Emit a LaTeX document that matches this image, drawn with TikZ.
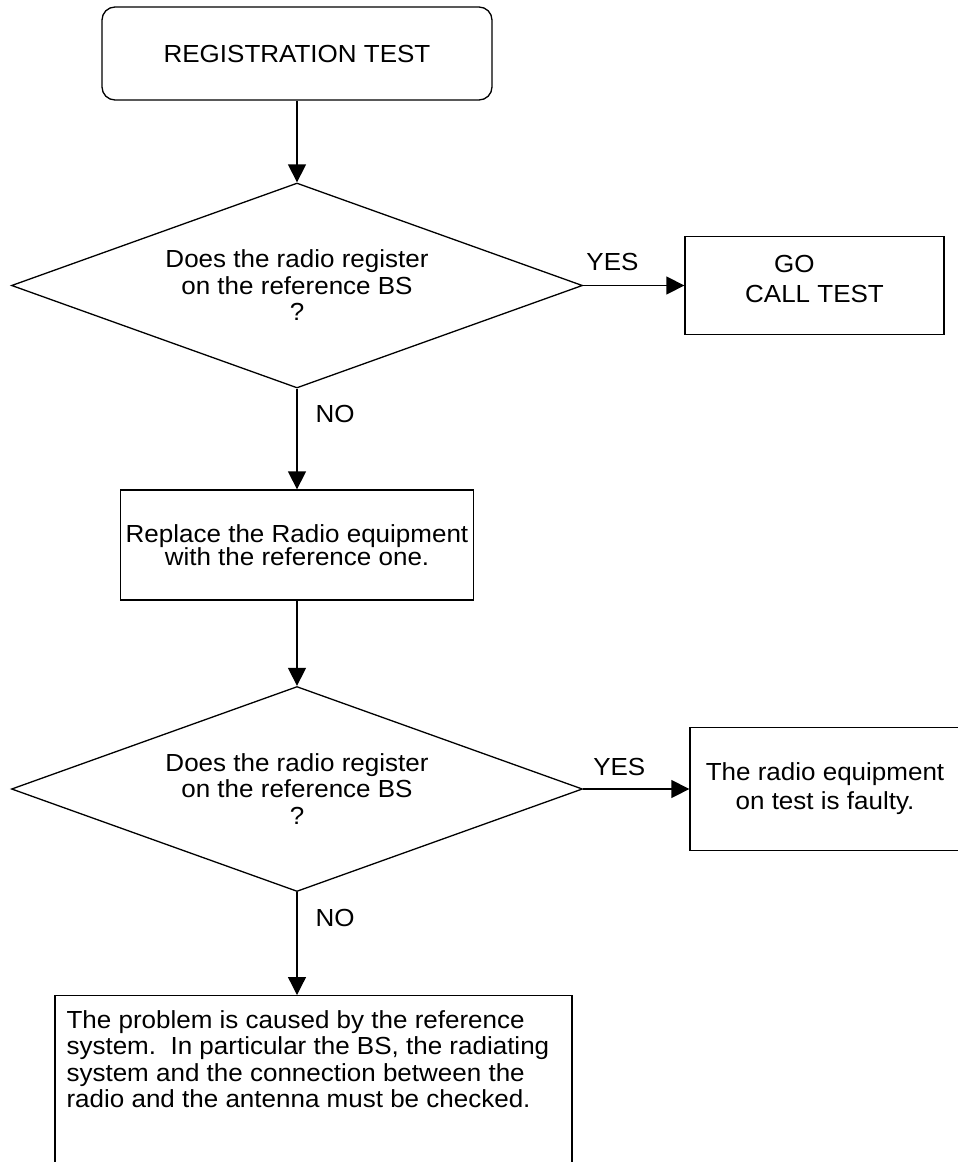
\documentclass[tikz,border=0pt]{standalone}
\usepackage{graphicx}
\usepackage{fontspec}
\setmainfont{Liberation Sans}
\usetikzlibrary{shapes.geometric,arrows.meta}
% slightly condensed lettering, as in the printed chart
\newcommand{\squash}[1]{\scalebox{1}[0.95]{#1}}
\begin{document}
\begin{tikzpicture}[x=1pt,y=-1pt,
  every node/.style={font=\fontsize{26}{26.5}\selectfont},
  box/.style={draw, line width=1.3pt, inner sep=0pt, align=center},
  decision/.style={draw, diamond, aspect=2.785, inner sep=0pt, line width=1.3pt,
    minimum width=571pt, minimum height=205pt, align=center},
  flow/.style={draw, line width=1.3pt, -{Triangle[length=18pt,width=18pt]}},
  lbl/.style={inner sep=0pt}]
\useasboundingbox (0,0) rectangle (958,1162);

% start of the procedure
\node[box, rounded corners=13pt, minimum width=390pt, minimum height=93pt]
  (start) at (297,53.5) {\squash{REGISTRATION TEST}};

% first check
\node[decision] (q1) at (297,285.5)
  {\squash{Does the radio register}\\\squash{on the reference BS}\\\squash{?}};
\node[box, minimum width=259pt, minimum height=98pt] (call) at (814.5,285.5)
  {\squash{GO\hphantom{GO}}\\[3.5pt]\squash{CALL TEST}\rule[-14pt]{0pt}{14pt}};

% swap the radio
\node[box, minimum width=353pt, minimum height=110pt] (swap) at (297,545)
  {\squash{Replace the Radio equipment}\\[-3pt]\squash{with the reference one.}};

% second check
\node[decision] (q2) at (297,789)
  {\squash{Does the radio register}\\\squash{on the reference BS}\\\squash{?}};
\node[box, minimum width=270pt, minimum height=123pt] (faulty) at (825,789)
  {\squash{The radio equipment}\\[2.5pt]\squash{on test is faulty.}\rule[-5pt]{0pt}{5pt}};

% conclusion
\node[box, minimum width=517pt, minimum height=200pt, anchor=north]
  (cause) at (313.5,995) {};
\node[anchor=north west, align=left, inner sep=0pt] (causetext)
  at ([xshift=12pt,yshift=-15pt]cause.north west)
  {\squash{The problem is caused by the reference}\\
   \squash{system.\ \ In particular the BS, the radiating}\\
   \squash{system and the connection between the}\\
   \squash{radio and the antenna must be checked.}};

% connectors
\draw[flow] (start.south) -- (q1.north);
\draw[flow] (q1.east) -- node[lbl, pos=0.29, above=14pt] {\squash{YES}} (call.west);
\draw[flow] (q1.south) -- node[lbl, pos=0.255, right=18pt] {\squash{NO}} (swap.north);
\draw[flow] (swap.south) -- (q2.north);
\draw[flow] (q2.east) -- node[lbl, pos=0.34, above=13pt] {\squash{YES}} (faulty.west);
\draw[flow] (q2.south) -- node[lbl, pos=0.25, right=18pt] {\squash{NO}} (q2.south |- cause.north);
\end{tikzpicture}
\end{document}
